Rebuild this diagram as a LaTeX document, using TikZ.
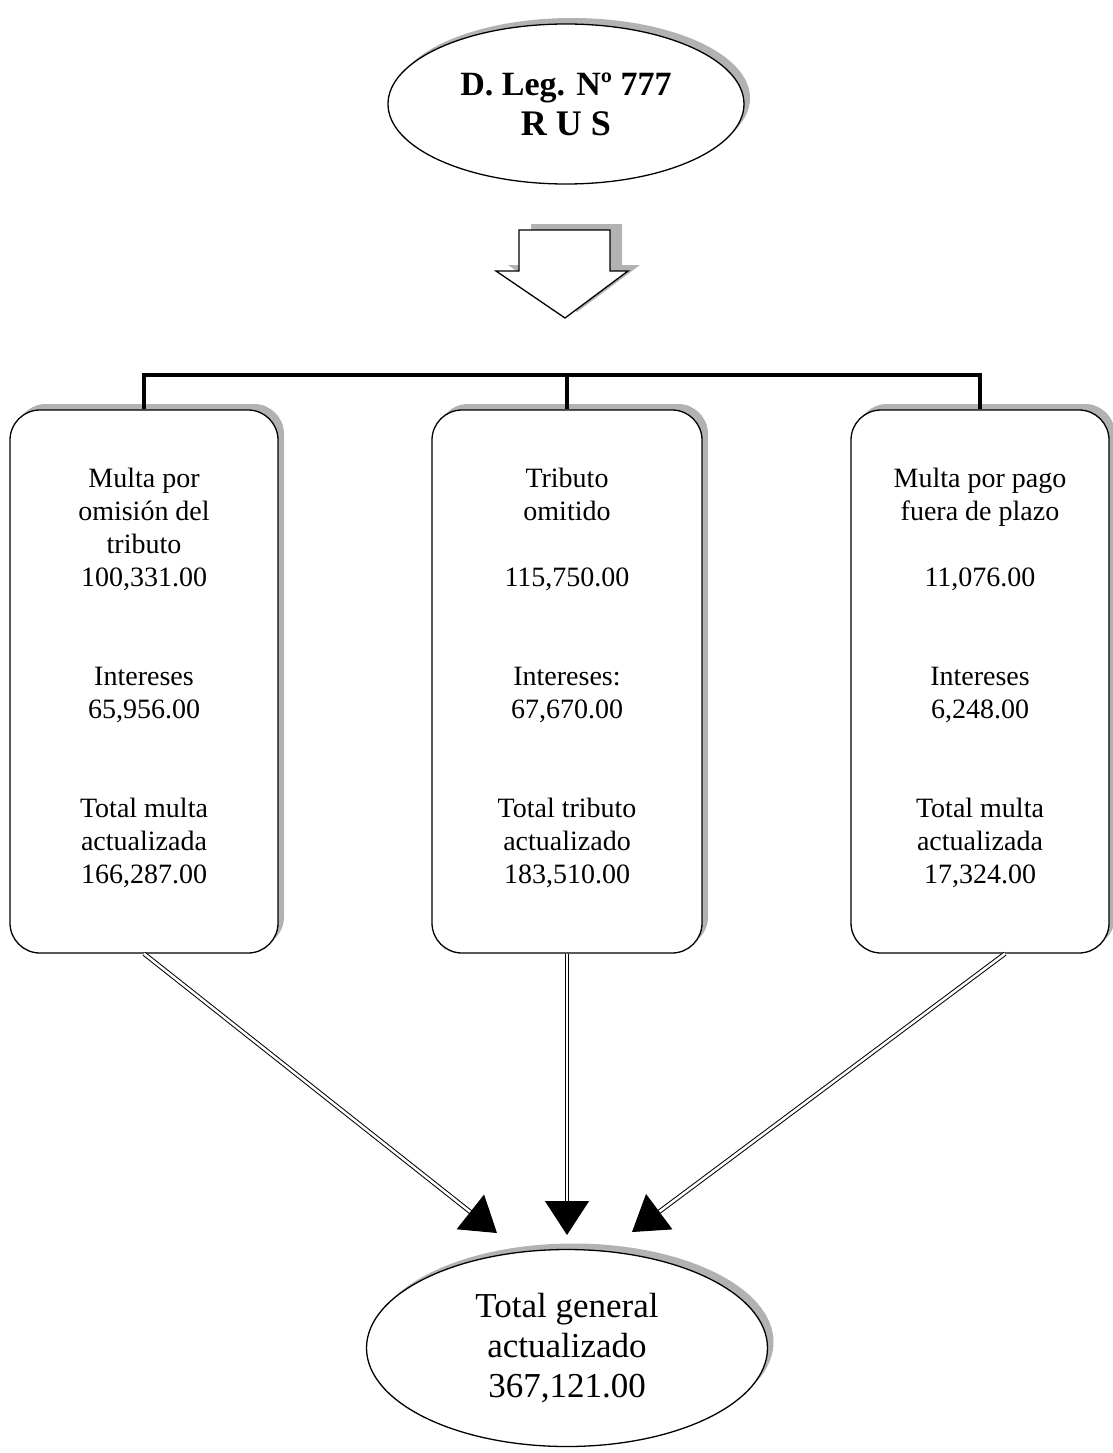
\documentclass[tikz,border=0pt]{standalone}
\usepackage{fontspec}
\setmainfont{Liberation Serif}
\usetikzlibrary{shapes.geometric,shadows,arrows.meta}
\begin{document}
\begin{tikzpicture}[x=1pt,y=-1pt,
  shad/.style={drop shadow={shadow xshift=6pt,shadow yshift=6pt,fill=gray!60,opacity=1}},
  oval/.style={ellipse,draw,line width=1.3pt,fill=white,inner sep=0pt,shad},
  card/.style={rectangle,draw,line width=1.3pt,rounded corners=30pt,fill=white,inner sep=0pt,shad},
  txt/.style={font=\fontsize{28}{33}\selectfont,align=center,inner sep=0pt,anchor=north},
  barline/.style={line width=4pt},
  dbl/.style={double,double distance=2.5pt,line width=1pt,-{Triangle[length=34pt,width=44pt]}}]
\useasboundingbox[fill=white] (0,0) rectangle (1112,1453);

% top ellipse
\node[oval,minimum width=356pt,minimum height=160pt,align=center,font=\bfseries\fontsize{34}{40}\selectfont] (top) at (566,104)
  {D. Leg. Nº 777\\{\fontsize{36}{40}\selectfont R U S}};

% block arrow
\fill[gray!60,shift={(12,-6)}] (519,230) -- (610,230) -- (610,271) -- (628,271) -- (565,318) -- (496,271) -- (519,271) -- cycle;
\draw[line width=1.3pt,fill=white] (519,230) -- (610,230) -- (610,271) -- (628,271) -- (565,318) -- (496,271) -- (519,271) -- cycle;

% boxes
\node[card,minimum width=268pt,minimum height=543pt] (b1) at (144,681.5) {};
\node[card,minimum width=270pt,minimum height=543pt] (b2) at (567,681.5) {};
\node[card,minimum width=258pt,minimum height=543pt] (b3) at (980,681.5) {};

\node[txt] (t1) at (144,468) {Multa por\\omisión del\\tributo\\100,331.00\\[66pt]Intereses\\65,956.00\\[66pt]Total multa\\actualizada\\166,287.00};
\node[txt] (t2) at (567,468) {Tributo\\omitido\\[33pt]115,750.00\\[66pt]Intereses:\\67,670.00\\[66pt]Total tributo\\actualizado\\183,510.00};
\node[txt] (t3) at (980,468) {Multa por pago\\fuera de plazo\\[33pt]11,076.00\\[66pt]Intereses\\6,248.00\\[66pt]Total multa\\actualizada\\17,324.00};

% top connector bar
\coordinate (bj) at (567,375);
\draw[barline] (b1.north) |- (bj) -| (b3.north);
\draw[barline] (b2.north) -- (bj);

% bottom ellipse
\node[oval,minimum width=401pt,minimum height=197pt,align=center,font=\fontsize{35}{40}\selectfont] (tot) at (567,1348)
  {Total general\\actualizado\\367,121.00};

% connectors
\coordinate (e1) at (497,1233);
\coordinate (e2) at (567,1235);
\coordinate (e3) at (632,1232);
\draw[dbl] (b1.south) -- (e1);
\draw[dbl] (b2.south) -- (e2);
\draw[dbl] ([xshift=25pt]b3.south) -- (e3);
\end{tikzpicture}
\end{document}
